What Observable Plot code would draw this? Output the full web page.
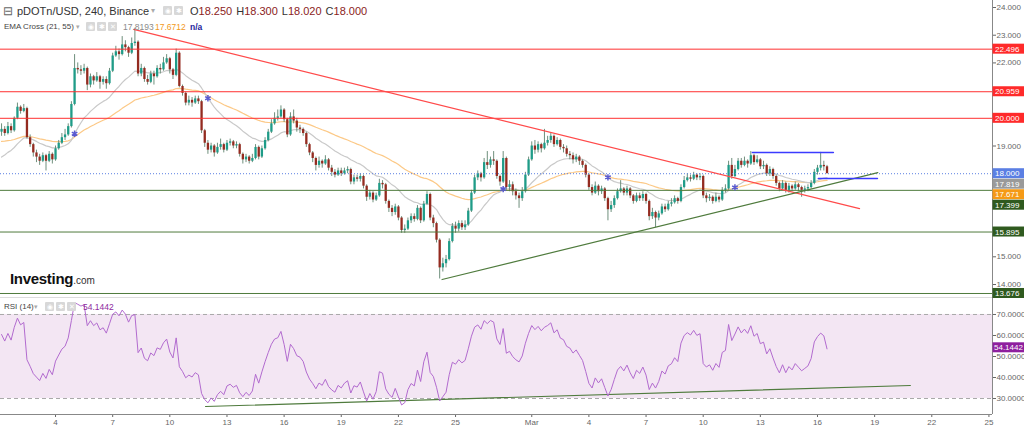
<!DOCTYPE html>
<html><head><meta charset="utf-8">
<script src="https://cdn.jsdelivr.net/npm/d3@7"></script>
<script src="https://cdn.jsdelivr.net/npm/@observablehq/plot@0.6"></script>
<style>
body{margin:0;background:#fff;font-family:"Liberation Sans",Arial,sans-serif;}
#wrap{position:relative;width:1024px;height:427px;overflow:hidden;background:#fff;}
#price,#rsi{position:absolute;left:0;}
#price{top:0}#rsi{top:298px}
.t{position:absolute;white-space:nowrap;line-height:1;}
.ic{display:inline-block;width:9px;height:9px;background:#d8d8d8;border-radius:1px;margin-right:2px;vertical-align:top;color:#fff;font-size:7px;text-align:center;line-height:9px;}
.g{margin-left:4px}
.v{color:#8b1c1c}
</style></head><body>
<div id="wrap">
<div id="price"></div>
<div id="rsi"></div>
<div style="position:absolute;left:0;top:297px;width:992px;height:1px;background:#dcdcdc"></div>
<div class="t" style="left:3px;top:5px;font-size:12px;color:#666">⊟</div>
<div class="t" style="left:17px;top:6px;font-size:11px;color:#333">pDOTn/USD, 240, Binance</div>
<div class="t" style="left:151px;top:7px;font-size:8px;color:#aaa">▾</div>
<div class="t" style="left:163px;top:6px"><span class="ic">◉</span><span class="ic">✱</span></div>
<div class="t" style="left:190px;top:6px;font-size:11px;color:#333">O<span class="v">18.250</span><span class="g">H</span><span class="v">18.300</span><span class="g">L</span><span class="v">18.020</span><span class="g">C</span><span class="v">18.000</span></div>
<div class="t" style="left:4px;top:23px;font-size:8px;color:#444">EMA Cross (21, 55)</div>
<div class="t" style="left:76px;top:23px;font-size:7px;color:#aaa">▾</div>
<div class="t" style="left:86px;top:22px"><span class="ic">◉</span><span class="ic">✱</span><span class="ic">✕</span></div>
<div class="t" style="left:123px;top:23px;font-size:8.5px;color:#8a8a8a">17.8193</div>
<div class="t" style="left:155px;top:23px;font-size:8.5px;color:#f29a1a">17.6712</div>
<div class="t" style="left:190px;top:23px;font-size:8.5px;color:#1c1c9c;font-weight:bold">n/a</div>
<div class="t" style="left:10px;top:271px;font-size:15px;color:#111;font-weight:bold;letter-spacing:-0.3px">Investing<span style="font-size:10px;font-weight:normal;color:#333;letter-spacing:0">.com</span></div>
<div class="t" style="left:4px;top:303px;font-size:8px;color:#444">RSI (14)</div>
<div class="t" style="left:34px;top:303px;font-size:7px;color:#aaa">▾</div>
<div class="t" style="left:45px;top:302px"><span class="ic">◉</span><span class="ic">✱</span><span class="ic">✕</span></div>
<div class="t" style="left:83px;top:303px;font-size:8.5px;color:#8e2a9e">54.1442</div>
</div>
<script>
// ---- data ----
const candleStart = Date.UTC(2021, 1, 1, 4); // first 4h candle
const firstOpen = 19.5;
const closes = [
19.6,19.45,19.7,19.55,20.0,20.4,20.25,20.35,19.3,19.05,
18.75,18.6,18.45,18.65,18.45,18.7,18.5,18.9,19.1,19.3,
19.4,19.7,20.5,21.8,21.75,21.7,21.8,21.2,21.5,21.35,
21.5,21.3,21.4,21.25,21.7,22.25,22.4,22.3,22.65,22.55,
22.35,22.7,22.75,21.6,21.8,21.4,21.3,21.6,21.5,21.8,
21.75,22.0,22.15,21.75,21.55,22.35,21.15,20.9,20.55,20.65,
20.55,20.7,20.6,19.55,19.1,18.85,19.0,18.75,18.95,19.05,
18.85,19.1,19.15,19.0,19.05,18.7,18.5,18.6,18.45,18.55,
18.95,18.6,18.9,19.2,19.5,19.8,20.0,20.05,20.3,19.95,
19.4,20.05,19.9,19.65,19.6,19.45,19.05,18.75,18.55,18.3,
18.45,18.35,18.5,18.2,18.05,17.95,18.1,18.0,18.1,18.15,
17.7,17.85,17.8,17.9,17.55,17.15,17.3,17.05,17.2,17.65,
17.6,17.0,16.75,16.6,16.8,16.4,15.95,16.0,16.3,16.45,
16.35,16.75,16.3,16.9,17.25,16.4,16.2,15.6,14.6,14.75,
14.9,15.55,16.1,16.0,16.2,16.05,16.15,16.65,17.3,17.85,
18.0,17.85,18.4,18.3,18.5,18.45,17.9,17.7,18.55,17.5,
17.6,17.35,17.2,17.1,17.35,17.95,18.5,19.0,18.85,19.05,
18.9,19.1,19.2,19.35,19.05,19.2,18.95,18.9,18.7,18.65,
18.5,18.6,18.45,18.3,17.95,17.5,17.3,17.55,17.35,17.45,
17.1,16.7,16.85,17.1,17.35,17.45,17.3,17.45,17.2,17.0,
17.2,17.1,17.25,17.0,16.45,16.6,16.4,16.55,16.8,16.7,
16.9,16.95,17.1,17.0,17.5,17.75,17.85,17.8,17.95,17.85,
17.9,17.2,17.1,17.15,17.0,17.15,17.05,17.4,17.45,18.3,
17.9,18.15,18.45,18.3,18.45,18.35,18.65,18.4,18.5,18.25,
18.3,18.0,18.15,17.9,17.65,17.45,17.65,17.4,17.55,17.45,
17.6,17.5,17.4,17.45,17.5,17.65,18.05,18.2,18.3,18.25,
18.0];
const highs = [
19.8,19.7,19.85,19.8,20.05,20.55,20.45,20.5,20.4,19.4,
19.1,18.85,18.7,18.75,18.7,18.8,18.75,19.0,19.2,19.45,
19.6,19.8,20.6,22.3,22.0,21.9,21.95,21.85,21.6,21.55,
21.65,21.55,21.5,21.5,21.8,22.35,22.6,22.5,22.95,22.8,
22.6,22.9,23.25,22.8,21.95,21.85,21.55,21.7,21.7,21.9,
21.95,22.2,22.3,22.2,21.8,22.5,22.4,21.2,20.95,20.8,
20.75,20.8,20.8,20.65,19.6,19.2,19.1,19.05,19.1,19.25,
19.1,19.2,19.25,19.2,19.15,19.1,18.75,18.7,18.65,18.7,
19.05,19.0,19.0,19.3,19.6,19.95,20.2,20.3,20.45,20.35,
20.0,20.2,20.3,20.0,19.75,19.65,19.5,19.1,18.8,18.6,
18.6,18.5,18.65,18.55,18.3,18.15,18.2,18.2,18.2,18.25,
18.2,17.95,17.95,18.0,17.95,17.6,17.4,17.35,17.3,17.8,
17.75,17.65,17.05,16.85,16.9,16.85,16.45,16.15,16.4,16.55,
16.55,16.85,16.8,17.0,17.35,17.3,16.5,16.25,15.65,14.95,
15.05,15.65,16.2,16.25,16.3,16.3,16.3,16.75,17.4,17.95,
18.1,18.05,18.55,18.8,18.6,18.8,18.5,17.95,18.8,18.6,
17.75,17.7,17.45,17.3,17.5,18.05,18.6,19.15,19.2,19.15,
19.1,19.6,19.35,19.45,19.4,19.3,19.25,19.05,19.0,18.8,
18.75,18.7,18.65,18.5,18.35,18.0,17.6,17.7,17.6,17.55,
17.5,17.15,17.0,17.2,17.45,17.75,17.5,17.55,17.5,17.25,
17.3,17.3,17.35,17.3,17.05,16.75,16.65,16.65,16.9,16.9,
17.0,17.1,17.2,17.15,17.6,17.9,18.0,17.95,18.05,18.0,
18.0,17.95,17.3,17.25,17.2,17.3,17.2,17.5,17.6,18.45,
18.55,18.3,18.55,18.55,18.6,18.5,18.8,18.7,18.65,18.55,
18.45,18.35,18.25,18.2,17.95,17.7,17.75,17.7,17.65,17.6,
17.7,17.65,17.55,17.55,17.6,17.75,18.15,18.3,18.77,18.45,
18.3];
const lows = [
19.35,19.35,19.4,19.45,19.5,19.95,20.15,20.2,19.25,18.95,
18.6,18.4,18.3,18.4,18.1,18.4,18.35,18.45,18.85,19.05,
19.2,19.35,19.65,20.45,21.6,21.55,21.6,21.0,21.1,21.2,
21.3,21.05,21.2,21.05,21.2,21.65,22.2,22.1,22.25,22.4,
22.2,22.3,22.6,21.5,21.5,21.3,21.2,21.25,21.2,21.45,
21.6,21.7,21.95,21.6,21.4,21.5,21.1,20.8,20.45,20.45,
20.4,20.5,20.5,19.45,18.95,18.7,18.75,18.6,18.7,18.85,
18.75,18.8,19.0,18.9,18.9,18.6,18.35,18.4,18.35,18.4,
18.5,18.5,18.55,18.85,19.15,19.45,19.75,19.9,20.0,19.85,
19.3,19.35,19.8,19.5,19.45,19.35,18.95,18.65,18.4,18.1,
18.2,18.2,18.3,18.1,17.9,17.85,17.9,17.9,17.95,18.0,
17.6,17.6,17.7,17.7,17.45,17.0,17.05,16.95,17.0,17.15,
17.45,16.9,16.6,16.45,16.5,16.3,15.85,15.85,15.95,16.2,
16.25,16.3,16.2,16.25,16.85,16.3,16.05,15.5,14.2,14.45,
14.6,14.85,15.5,15.85,15.9,15.95,15.95,16.1,16.6,17.25,
17.75,17.7,17.8,18.15,18.2,18.3,17.8,17.55,17.65,17.4,
17.35,17.2,17.05,16.75,17.0,17.3,17.9,18.45,18.7,18.75,
18.75,18.85,19.0,19.1,18.95,19.0,18.85,18.75,18.6,18.5,
18.35,18.4,18.3,18.2,17.85,17.4,17.2,17.25,17.2,17.25,
17.0,16.3,16.6,16.75,17.05,17.3,17.2,17.2,17.1,16.9,
16.95,17.0,17.0,16.9,16.3,16.35,16.05,16.3,16.5,16.6,
16.65,16.8,16.9,16.9,16.95,17.45,17.7,17.7,17.75,17.75,
17.75,17.1,16.95,17.0,16.9,16.95,16.95,17.0,17.3,17.4,
17.8,17.85,18.1,18.2,18.25,18.2,18.3,18.3,18.35,18.15,
18.15,17.9,17.9,17.8,17.55,17.35,17.4,17.3,17.3,17.35,
17.4,17.35,17.15,17.3,17.35,17.45,17.6,17.95,18.1,18.1,
18.0];
// indicator seeds read at the left edge
const ema21Seed = 18.5, ema55Seed = 19.15;
const rsiSeedGain = 0.13, rsiSeedLoss = 0.09;

// horizontal levels
const redLevels = [22.496, 20.959, 20.0];
const greenLevels = [17.399, 15.895, 13.676];
const lastPrice = 18.0;
// drawn trend lines [date, value]
const redTrend = [["2021-02-08T02:30Z", 23.21], ["2021-03-18T05:00Z", 16.74]];
const greenTrend = [["2021-02-24T07:00Z", 14.18], ["2021-03-19T04:00Z", 18.04]];
const blueTop = [["2021-03-12T14:00Z", 18.77], ["2021-03-16T20:00Z", 18.77]];
const blueLow = [["2021-03-16T01:00Z", 17.83], ["2021-03-19T03:30Z", 17.83]];
const rsiTrend = [["2021-02-11T21:00Z", 26.2], ["2021-03-20T21:00Z", 36.2]];
// price-axis tags
const tagValues = [22.496, 20.959, 20.0, 18.0, 17.819, 17.671, 17.399, 15.895, 13.676];
const tagColors = ["#ff2a2a","#ff2a2a","#ff2a2a","#5b7fe3","#9a9a9a","#f59a16","#2f5a1f","#2f5a1f","#2f5a1f"];
const rsiLast = 54.1442;
// axes
const priceTicks = [14,15,16,17,18,19,20,21,22,23,24];
const rsiTicks = [30,40,50,60,70];
const rsiBands = [70,30];
const xTickDates = ["2021-02-04","2021-02-07","2021-02-10","2021-02-13","2021-02-16","2021-02-19","2021-02-22","2021-02-25",
  "2021-03-01","2021-03-04","2021-03-07","2021-03-10","2021-03-13","2021-03-16","2021-03-19","2021-03-22","2021-03-25"];
const xTickLabels = ["4","7","10","13","16","19","22","25","Mar","4","7","10","13","16","19","22","25"];
const xDomain = [new Date(Date.UTC(2021,1,1,2,40)), new Date(Date.UTC(2021,2,25,4,30))];

// ---- derived ----
const H4 = 4*3600*1000;
const candles = closes.map((c,i)=>({t:new Date(candleStart+i*H4), o: i? closes[i-1] : firstOpen, h: highs[i], l: lows[i], c}));
function ema(vals, n, seed){ const k = 2/(n+1); let e = seed; return vals.map(v => (e = e + k*(v-e))); }
const e21 = ema(closes, 21, ema21Seed), e55 = ema(closes, 55, ema55Seed);
const emaData = candles.map((d,i)=>({t:d.t, a:e21[i], b:e55[i]}));
const crosses = emaData.filter((d,i)=> i>0 && Math.sign(d.a-d.b) !== Math.sign(emaData[i-1].a-emaData[i-1].b));
let ag = rsiSeedGain, al = rsiSeedLoss, prev = firstOpen;
const rsiData = candles.map(d => { const ch = d.c - prev; prev = d.c; ag = (ag*13 + Math.max(ch,0))/14; al = (al*13 + Math.max(-ch,0))/14; return {t:d.t, v: 100 - 100/(1+ag/al)}; });
const seg = a => a.map(([t,v]) => ({t:new Date(t), v}));

const FONT = "'Liberation Sans', Arial, sans-serif";
const yDomain = [13.495, 24.253];

const price = Plot.plot({
  width: 1024, height: 298,
  marginLeft: 0, marginRight: 32, marginTop: 0, marginBottom: 0,
  style: {fontFamily: FONT, fontSize: "8px", color: "#666", background: "transparent", overflow: "visible"},
  x: {type: "utc", domain: xDomain, axis: null},
  y: {domain: yDomain, axis: "right", ticks: priceTicks, tickFormat: d3.format(".3f"), tickSize: 3, tickPadding: 1, label: null},
  marks: [
    Plot.line(emaData, {x: "t", y: "b", stroke: "#fcc987", strokeWidth: 1.2}),
    Plot.line(emaData, {x: "t", y: "a", stroke: "#c9c9c9", strokeWidth: 1.2}),
    Plot.ruleX(candles, {x: "t", y1: "l", y2: "h", stroke: "#6f8f7c", strokeWidth: 1}),
    Plot.ruleX(candles, {x: "t", y1: "o", y2: d => Math.abs(d.c-d.o) < 0.02 ? d.o + 0.02 : d.c,
      stroke: d => d.c >= d.o ? "#1f9c88" : "#942b20", strokeWidth: 2.3}),
    Plot.ruleY(redLevels, {stroke: "#ff3030", strokeWidth: 1}),
    Plot.ruleY(greenLevels, {stroke: "#4f7b3d", strokeWidth: 1}),
    Plot.ruleY([lastPrice], {stroke: "#5b7fe3", strokeWidth: 1, strokeDasharray: "1,2"}),
    Plot.line(seg(redTrend), {x: "t", y: "v", stroke: "#ff4a4a", strokeWidth: 1.2}),
    Plot.line(seg(greenTrend), {x: "t", y: "v", stroke: "#4f7b3d", strokeWidth: 1.2}),
    Plot.line(seg(blueTop), {x: "t", y: "v", stroke: "#3b3bff", strokeWidth: 1.5}),
    Plot.line(seg(blueLow), {x: "t", y: "v", stroke: "#3b3bff", strokeWidth: 1.5}),
    Plot.dot(crosses, {x: "t", y: "a", symbol: "asterisk", r: 3, stroke: "#5a5ad0", strokeWidth: 1.5}),
    Plot.ruleX([xDomain[1]], {stroke: "#888", strokeWidth: 1})
  ]
});
document.getElementById("price").appendChild(price);

// value tags on the price axis, pushed apart so they do not overlap;
// axis tick labels hidden behind a tag are removed
(function(){
  const sc = price.scale("y");
  const ypx = sc.apply ? (v => sc.apply(v)) : d3.scaleLinear(sc.domain, sc.range);
  const tickTexts = Array.from(price.querySelectorAll("text"));
  const top0 = price.getBoundingClientRect().top;
  const g = d3.select(price).append("g").attr("text-anchor", "start");
  let last = -Infinity;
  const tagY = [];
  tagValues.forEach((v,i) => {
    let y = ypx(v);
    if (y < last + 10.5) y = last + 10.5;
    last = y;
    tagY.push(y);
    g.append("rect").attr("x", 992.5).attr("y", y-5).attr("width", 31.5).attr("height", 10).attr("fill", tagColors[i]);
    g.append("text").attr("x", 995).attr("y", y+3).attr("fill", "#fff").attr("text-anchor", "start")
      .attr("font-size", "8px").attr("font-family", FONT).text(d3.format(".3f")(v));
  });
  tickTexts.forEach(t => {
    const r = t.getBoundingClientRect();
    const cy = r.top - top0 + r.height/2;
    if (tagY.some(y => Math.abs(y - cy) < 8)) t.style.display = "none";
  });
})();

const tickMap = new Map(xTickDates.map((d,i)=>[+new Date(d), xTickLabels[i]]));
const rsiPlot = Plot.plot({
  width: 1024, height: 129,
  marginLeft: 0, marginRight: 32, marginTop: 0, marginBottom: 13,
  style: {fontFamily: FONT, fontSize: "8px", color: "#666", background: "transparent", overflow: "visible"},
  x: {type: "utc", domain: xDomain, ticks: xTickDates.map(d => new Date(d)), tickFormat: d => tickMap.get(+d), tickSize: 3, tickPadding: 2, label: null},
  y: {domain: [22.4, 77.6], axis: "right", ticks: rsiTicks, tickFormat: d3.format(".4f"), tickSize: 3, tickPadding: 1, label: null},
  marks: [
    Plot.rect([{x1: xDomain[0], x2: xDomain[1], y1: 30, y2: 70}], {x1: "x1", x2: "x2", y1: "y1", y2: "y2", fill: "#f3e6f3"}),
    Plot.ruleY(rsiBands, {stroke: "#a8a8a8", strokeDasharray: "4,3"}),
    Plot.line(seg(rsiTrend), {x: "t", y: "v", stroke: "#4f7b3d", strokeWidth: 1.2}),
    Plot.line(rsiData, {x: "t", y: "v", stroke: "#b26bcf", strokeWidth: 1}),
    Plot.ruleY([22.4], {stroke: "#888"}),
    Plot.ruleX([xDomain[1]], {stroke: "#888"})
  ]
});
document.getElementById("rsi").appendChild(rsiPlot);
(function(){
  const sc = rsiPlot.scale("y");
  const ypx = sc.apply ? (v => sc.apply(v)) : d3.scaleLinear(sc.domain, sc.range);
  const g = d3.select(rsiPlot).append("g").attr("text-anchor", "start");
  const y = ypx(rsiLast);
  g.append("rect").attr("x", 992.5).attr("y", y-5).attr("width", 31.5).attr("height", 10).attr("fill", "#8e1f9e");
  g.append("text").attr("x", 994).attr("y", y+3).attr("fill", "#fff").attr("text-anchor", "start")
    .attr("font-size", "8px").attr("font-family", FONT).text(d3.format(".4f")(rsiLast));
})();
</script>
</body></html>
